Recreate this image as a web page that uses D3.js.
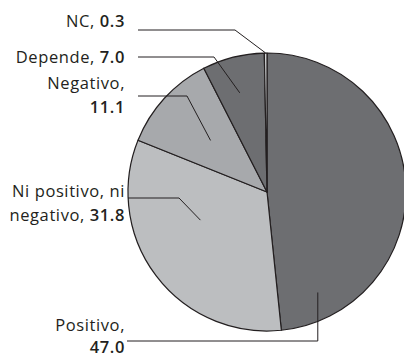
<!DOCTYPE html>
<html>
<head>
<meta charset="utf-8">
<script src="https://cdn.jsdelivr.net/npm/d3@7"></script>
<style>
  html, body { margin: 0; padding: 0; background: #fff; }
  svg { display: block; }
  text { font-family: "Open Sans", Lato, sans-serif; fill: #231f20; }
</style>
</head>
<body>
<div id="chart"></div>
<script>
// Opinion shares (%), in drawing order clockwise from 12 o'clock
const categories = ["Positivo", "Ni positivo, ni negativo", "Negativo", "Depende", "NC"];
const values = [47.0, 31.8, 11.1, 7.0, 0.3];
// Label text lines: the first line is plain, the value is appended in bold
const labelLines = [
  ["Positivo,", ""],
  ["Ni positivo, ni", "negativo, "],
  ["Negativo,", ""],
  ["Depende, ", null],
  ["NC, ", null]
];

const W = 404, H = 358;
const cx = 267, cy = 192, R = 139;
const fills = ["#6d6e71", "#bcbec0", "#a7a9ac", "#6d6e71", "#d1d3d4"];
const fontSize = 16.5;
const tracking = 0.6;

// Label layout: text baseline(s), leader start, elbow, and anchor inside the slice
// (t = position along the slice's angular span, rf = fraction of the radius)
const layout = [
  { y1: 331, y2: 353, lineY: 341, x0: 127, elbowX: null, t: 0.88, rf: 0.81 },
  { y1: 197, y2: 221, lineY: 198, x0: 128, elbowX: 179, t: 0.62, rf: 0.52 },
  { y1: 89,  y2: 113, lineY: 96,  x0: 138, elbowX: 187, t: 0.50, rf: 0.55 },
  { y1: 63,  y2: null, lineY: 57, x0: 138, elbowX: 214, t: 0.45, rf: 0.74 },
  { y1: 27,  y2: null, lineY: 30, x0: 138, elbowX: 235, t: 0.50, rf: 1.0 }
];
const textX = 125;

const svg = d3.select("#chart").append("svg")
  .attr("width", W).attr("height", H);

const pie = d3.pie().sort(null).value(d => d);
const arcs = pie(values);
const arc = d3.arc().innerRadius(0).outerRadius(R);

const g = svg.append("g").attr("transform", `translate(${cx},${cy})`);
g.selectAll("path.slice")
  .data(arcs)
  .join("path")
  .attr("class", "slice")
  .attr("d", arc)
  .attr("fill", (d, i) => fills[i])
  .attr("stroke", "#231f20")
  .attr("stroke-width", 1.2)
  .attr("stroke-linejoin", "round");

// Point at angle a (radians, clockwise from top) and radius r, in page coordinates
const polar = (a, r) => [cx + r * Math.sin(a), cy - r * Math.cos(a)];

const fmt = d3.format(".1f");
const leaders = svg.append("g");
const labels = svg.append("g");

const addText = (y) => labels.append("text")
  .attr("x", textX).attr("y", y)
  .attr("text-anchor", "end")
  .attr("font-size", fontSize)
  .attr("letter-spacing", tracking);

arcs.forEach((d, i) => {
  const L = layout[i];
  const a = d.startAngle + L.t * (d.endAngle - d.startAngle);
  const [ax, ay] = polar(a, L.rf * R);
  const pts = L.elbowX === null
    ? [[L.x0, L.lineY], [ax, L.lineY], [ax, ay]]
    : [[L.x0, L.lineY], [L.elbowX, L.lineY], [ax, ay]];
  leaders.append("path")
    .attr("d", d3.line()(pts))
    .attr("fill", "none")
    .attr("stroke", "#231f20")
    .attr("stroke-width", 1);

  const [l1, l2] = labelLines[i];
  const val = fmt(values[i]);
  if (l2 === null) {
    const t = addText(L.y1);
    t.append("tspan").text(l1);
    t.append("tspan").attr("font-weight", 600).text(val);
  } else {
    addText(L.y1).text(l1);
    const t2 = addText(L.y2);
    if (l2) t2.append("tspan").text(l2);
    t2.append("tspan").attr("font-weight", 600).text(val);
  }
});
</script>
</body>
</html>
